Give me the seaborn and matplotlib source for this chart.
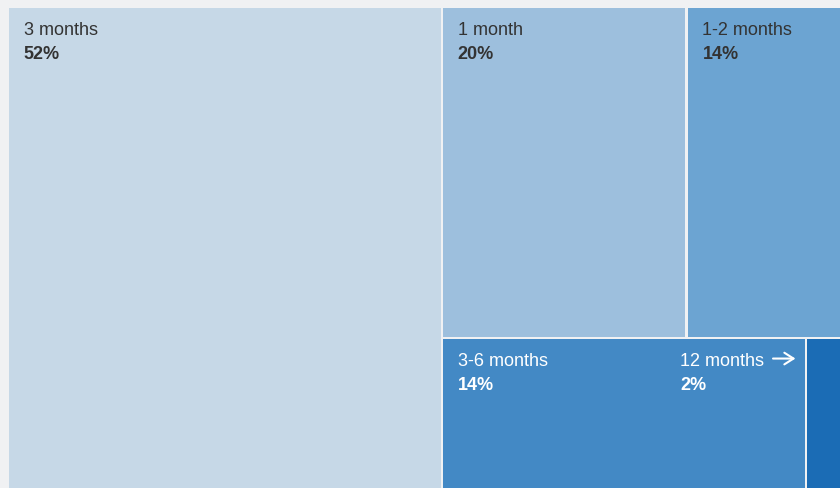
# Treemap of time frames (share of respondents)
import matplotlib
matplotlib.use("Agg")
import matplotlib.pyplot as plt
import seaborn as sns
from matplotlib.patches import Rectangle

labels = ["3 months", "1 month", "1-2 months", "3-6 months", "12 months"]
shares = [52, 20, 14, 14, 2]
colors = ["#c6d8e7", "#9dbfdd", "#6ca4d2", "#4389c5", "#1b6cb5"]
text_colors = ["#333333", "#333333", "#333333", "white", "white"]

sns.set_theme(style="white")
plt.rcParams["font.family"] = ["Liberation Sans", "DejaVu Sans"]

GAP = 2.5


def layout(x, y, w, h):
    """Big item as a full-height column, the rest in two rows of two."""
    total = sum(shares)
    w0 = w * shares[0] / total
    rects = [(x, y, w0, h)]
    rest_w = w - w0
    top = shares[1] + shares[2]
    bottom = shares[3] + shares[4]
    h_top = h * top / (top + bottom)
    x1 = x + w0
    w1 = rest_w * shares[1] / top
    rects.append((x1, y, w1, h_top))
    rects.append((x1 + w1, y, rest_w - w1, h_top))
    w3 = rest_w * shares[3] / bottom
    rects.append((x1, y + h_top, w3, h - h_top))
    rects.append((x1 + w3, y + h_top, rest_w - w3, h - h_top))
    return rects


fig = plt.figure(figsize=(8.4, 4.88), dpi=100)
fig.patch.set_facecolor("#f0f1f3")
ax = fig.add_axes([0, 0, 1, 1])
ax.set_xlim(0, 840)
ax.set_ylim(488, 0)
ax.axis("off")

# the treemap runs past the right and bottom edges of the picture
rects = layout(9, 8, 849, 485)
for i, (x, y, w, h) in enumerate(rects):
    if i > 0:
        x, w = x + GAP / 2, w - GAP / 2
    if i in (3, 4):
        y, h = y + GAP / 2, h - GAP / 2
    right_gap = GAP / 2 if i in (0, 1, 3) else 0
    bottom_gap = GAP / 2 if i in (1, 2) else 0
    ax.add_patch(Rectangle((x, y), w - right_gap, h - bottom_gap,
                           facecolor=colors[i], edgecolor="none"))
    if w < 60:
        # too narrow: label sits to the left with an arrow pointing in
        ax.text(x - 127, y + 27, labels[i], color=text_colors[i],
                fontsize=13, ha="left", va="baseline")
        ax.text(x - 127, y + 51, f"{shares[i]}%", color=text_colors[i],
                fontsize=13, fontweight="bold", ha="left", va="baseline")
        ax.annotate("", xy=(x - 9, y + 19.5), xytext=(x - 37, y + 19.5),
                    arrowprops=dict(arrowstyle="->,head_length=0.55,head_width=0.35",
                                    color="white", lw=1.5))
        continue
    ax.text(x + 14.5, y + 27, labels[i], color=text_colors[i],
            fontsize=13, ha="left", va="baseline")
    ax.text(x + 14.5, y + 51, f"{shares[i]}%", color=text_colors[i],
            fontsize=13, fontweight="bold", ha="left", va="baseline")

fig.savefig("out.png", dpi=100, facecolor=fig.get_facecolor())
